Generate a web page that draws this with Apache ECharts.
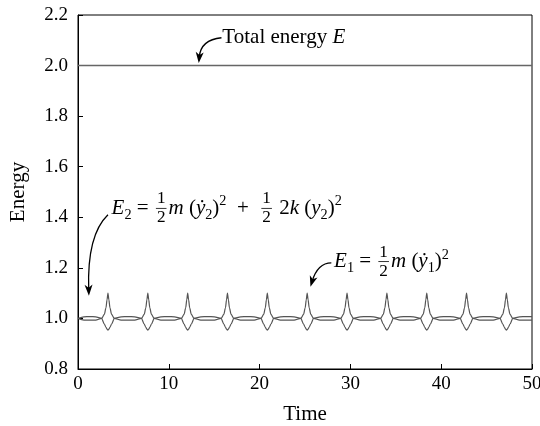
<!DOCTYPE html>
<html>
<head>
<meta charset="utf-8">
<script src="https://cdn.jsdelivr.net/npm/echarts@6/dist/echarts.min.js"></script>
<style>
  html, body { margin: 0; background: #fff; }
  #chart { width: 540px; height: 426px; }
</style>
</head>
<body>
<div id="chart"></div>
<script>
// values, one row per spike
const time = [
  0, 0.65, 1.3, 1.95,
  2.60, 2.90, 3.08, 3.20, 3.30, 3.40, 3.52, 3.70, 4.00, 4.75, 5.49, 6.24,
  6.99, 7.29, 7.47, 7.59, 7.69, 7.79, 7.91, 8.09, 8.39, 9.14, 9.88, 10.63,
  11.38, 11.68, 11.86, 11.98, 12.08, 12.18, 12.30, 12.48, 12.78, 13.53, 14.27, 15.02,
  15.76, 16.06, 16.24, 16.36, 16.46, 16.56, 16.68, 16.86, 17.16, 17.91, 18.65, 19.40,
  20.15, 20.45, 20.63, 20.75, 20.85, 20.95, 21.07, 21.25, 21.55, 22.30, 23.04, 23.79,
  24.54, 24.84, 25.02, 25.14, 25.24, 25.34, 25.46, 25.64, 25.94, 26.69, 27.43, 28.18,
  28.93, 29.23, 29.41, 29.53, 29.63, 29.73, 29.85, 30.03, 30.33, 31.08, 31.82, 32.57,
  33.32, 33.62, 33.80, 33.92, 34.02, 34.12, 34.24, 34.42, 34.72, 35.47, 36.21, 36.96,
  37.71, 38.01, 38.19, 38.31, 38.41, 38.51, 38.63, 38.81, 39.11, 39.86, 40.60, 41.35,
  42.09, 42.39, 42.57, 42.69, 42.79, 42.89, 43.01, 43.19, 43.49, 44.24, 44.98, 45.73,
  46.48, 46.78, 46.96, 47.08, 47.18, 47.28, 47.40, 47.58, 47.88, 48.63, 49.37, 50.00
];
const energy1 = [
  1.000, 0.9935, 0.993, 0.9935,
  1.000, 1.016, 1.042, 1.074, 1.100, 1.074, 1.042, 1.016, 1.000, 0.9935, 0.993, 0.9935,
  1.000, 1.016, 1.042, 1.074, 1.100, 1.074, 1.042, 1.016, 1.000, 0.9935, 0.993, 0.9935,
  1.000, 1.016, 1.042, 1.074, 1.100, 1.074, 1.042, 1.016, 1.000, 0.9935, 0.993, 0.9935,
  1.000, 1.016, 1.042, 1.074, 1.100, 1.074, 1.042, 1.016, 1.000, 0.9935, 0.993, 0.9935,
  1.000, 1.016, 1.042, 1.074, 1.100, 1.074, 1.042, 1.016, 1.000, 0.9935, 0.993, 0.9935,
  1.000, 1.016, 1.042, 1.074, 1.100, 1.074, 1.042, 1.016, 1.000, 0.9935, 0.993, 0.9935,
  1.000, 1.016, 1.042, 1.074, 1.100, 1.074, 1.042, 1.016, 1.000, 0.9935, 0.993, 0.9935,
  1.000, 1.016, 1.042, 1.074, 1.100, 1.074, 1.042, 1.016, 1.000, 0.9935, 0.993, 0.9935,
  1.000, 1.016, 1.042, 1.074, 1.100, 1.074, 1.042, 1.016, 1.000, 0.9935, 0.993, 0.9935,
  1.000, 1.016, 1.042, 1.074, 1.100, 1.074, 1.042, 1.016, 1.000, 0.9935, 0.993, 0.9935,
  1.000, 1.016, 1.042, 1.074, 1.100, 1.074, 1.042, 1.016, 1.000, 0.9935, 0.993, 0.9932
];
const energy2 = [
  1.000, 1.0065, 1.007, 1.0065,
  1.000, 0.978, 0.965, 0.958, 0.954, 0.958, 0.965, 0.978, 1.000, 1.0065, 1.007, 1.0065,
  1.000, 0.978, 0.965, 0.958, 0.954, 0.958, 0.965, 0.978, 1.000, 1.0065, 1.007, 1.0065,
  1.000, 0.978, 0.965, 0.958, 0.954, 0.958, 0.965, 0.978, 1.000, 1.0065, 1.007, 1.0065,
  1.000, 0.978, 0.965, 0.958, 0.954, 0.958, 0.965, 0.978, 1.000, 1.0065, 1.007, 1.0065,
  1.000, 0.978, 0.965, 0.958, 0.954, 0.958, 0.965, 0.978, 1.000, 1.0065, 1.007, 1.0065,
  1.000, 0.978, 0.965, 0.958, 0.954, 0.958, 0.965, 0.978, 1.000, 1.0065, 1.007, 1.0065,
  1.000, 0.978, 0.965, 0.958, 0.954, 0.958, 0.965, 0.978, 1.000, 1.0065, 1.007, 1.0065,
  1.000, 0.978, 0.965, 0.958, 0.954, 0.958, 0.965, 0.978, 1.000, 1.0065, 1.007, 1.0065,
  1.000, 0.978, 0.965, 0.958, 0.954, 0.958, 0.965, 0.978, 1.000, 1.0065, 1.007, 1.0065,
  1.000, 0.978, 0.965, 0.958, 0.954, 0.958, 0.965, 0.978, 1.000, 1.0065, 1.007, 1.0065,
  1.000, 0.978, 0.965, 0.958, 0.954, 0.958, 0.965, 0.978, 1.000, 1.0065, 1.007, 1.0068
];
const totalTime = [0, 50];
const totalEnergy = [2.0, 2.0];

const FONT = '"Liberation Serif", "Times New Roman", serif';
const FS = 19;    // tick labels
const FSA = 21;   // axis names and annotations

const chart = echarts.init(document.getElementById('chart'));
const zip = (xs, ys) => xs.map((x, i) => [x, ys[i]]);

chart.setOption({
  animation: false,
  backgroundColor: '#fff',
  grid: {
    left: 78, right: 8, top: 15, bottom: 57, outerBoundsMode: 'none',
    show: true, borderColor: '#000', borderWidth: 1
  },
  xAxis: {
    type: 'value', min: 0, max: 50, interval: 10,
    name: 'Time', nameLocation: 'middle', nameGap: 35,
    nameTextStyle: { fontFamily: FONT, fontSize: FSA, color: '#000' },
    axisLine: { lineStyle: { color: '#000', width: 1 } },
    axisTick: { inside: true, length: 5, lineStyle: { color: '#000' } },
    axisLabel: { fontFamily: FONT, fontSize: FS, color: '#000', margin: 6 },
    splitLine: { show: false }
  },
  yAxis: {
    type: 'value', min: 0.8, max: 2.2, interval: 0.2,
    name: 'Energy', nameLocation: 'middle', nameGap: 49,
    nameTextStyle: { fontFamily: FONT, fontSize: FSA, color: '#000' },
    axisLine: { show: true, lineStyle: { color: '#000', width: 1 } },
    axisTick: { show: true, inside: true, length: 5, lineStyle: { color: '#000' } },
    axisLabel: { fontFamily: FONT, fontSize: FS, color: '#000', margin: 10, formatter: v => v.toFixed(1) },
    splitLine: { show: false }
  },
  series: [
    {
      name: 'Total', type: 'line', data: zip(totalTime, totalEnergy), showSymbol: false,
      lineStyle: { color: '#666', width: 1.6 }
    },
    {
      name: 'E1', type: 'line', data: zip(time, energy1), showSymbol: false,
      smooth: 0.25, smoothMonotone: 'x',
      lineStyle: { color: '#555', width: 1.2 }
    },
    {
      name: 'E2', type: 'line', data: zip(time, energy2), showSymbol: false,
      smooth: 0.25, smoothMonotone: 'x',
      lineStyle: { color: '#555', width: 1.2 }
    }
  ]
});

// annotations, anchored in data coordinates
const ctx = document.createElement('canvas').getContext('2d');

function piece(text, x, y, size, italic, va) {
  return {
    type: 'text',
    style: {
      text: text, x: x, y: y, fill: '#000',
      fontFamily: FONT, fontSize: size, fontStyle: italic ? 'italic' : 'normal',
      verticalAlign: va || 'middle'
    }
  };
}

function layoutEq(parts, x0, y0) {
  const els = [];
  let x = x0;
  parts.forEach(p => {
    if (p.frac) {
      const fs = FSA * 0.82;
      ctx.font = fs + 'px ' + FONT;
      const w = Math.max(ctx.measureText(p.frac[0]).width, ctx.measureText(p.frac[1]).width) + 2;
      const cx = x + 2 + w / 2;
      const n = piece(p.frac[0], cx, y0 - 1, fs, false, 'bottom');
      n.style.align = 'center';
      const d = piece(p.frac[1], cx, y0 + 1, fs, false, 'top');
      d.style.align = 'center';
      els.push(n, d, {
        type: 'line', shape: { x1: x + 2, y1: y0, x2: x + 2 + w, y2: y0 },
        style: { stroke: '#000', lineWidth: 0.8 }
      });
      x += w + 4;
    } else {
      const small = p.sub || p.sup;
      const fs = small ? FSA * 0.68 : FSA;
      ctx.font = (p.it ? 'italic ' : '') + fs + 'px ' + FONT;
      const dy = p.sub ? FSA * 0.32 : p.sup ? -FSA * 0.32 : 0;
      els.push(piece(p.t, x, y0 + dy, fs, p.it));
      x += ctx.measureText(p.t).width;
    }
  });
  return els;
}

function arrow(S, T, cp) {
  const dx = T[0] - cp[0], dy = T[1] - cp[1];
  const len = Math.hypot(dx, dy) || 1;
  const ux = dx / len, uy = dy / len, px = -uy, py = ux;
  const L = 11, W = 4, N = 3;
  const bx = T[0] - ux * L, by = T[1] - uy * L;
  return [
    {
      type: 'bezierCurve',
      shape: { x1: S[0], y1: S[1], x2: T[0] - ux * 6, y2: T[1] - uy * 6, cpx1: cp[0], cpy1: cp[1] },
      style: { stroke: '#000', lineWidth: 1.3, fill: null }
    },
    {
      type: 'polygon',
      shape: { points: [T, [bx + px * W, by + py * W], [T[0] - ux * (L - N), T[1] - uy * (L - N)], [bx - px * W, by - py * W]] },
      style: { fill: '#000' }
    }
  ];
}

const toPx = p => chart.convertToPixel({ gridIndex: 0 }, p);

const totalLabel = { from: [15.8, 2.11], tip: [13.3, 2.01], text: [15.9, 2.11] };
const e2Label = { from: [3.3, 1.41], tip: [1.2, 1.09], text: [3.7, 1.435] };
const e1Label = { from: [27.9, 1.22], tip: [25.6, 1.125], text: [28.2, 1.225] };

const g = [];
{
  const S = toPx(totalLabel.from), T = toPx(totalLabel.tip);
  g.push(...arrow(S, T, [T[0] + 2, S[1] + 2]));
  const p = toPx(totalLabel.text);
  g.push(...layoutEq([{ t: 'Total energy ' }, { t: 'E', it: true }], p[0], p[1]));
}
{
  const S = toPx(e2Label.from), T = toPx(e2Label.tip);
  g.push(...arrow(S, T, [T[0] - 2, S[1] + 0.25 * (T[1] - S[1])]));
  const p = toPx(e2Label.text);
  g.push(...layoutEq([
    { t: 'E', it: true }, { t: '2', sub: true }, { t: ' = ' }, { frac: ['1', '2'] },
    { t: 'm', it: true }, { t: ' (' }, { t: 'ẏ', it: true }, { t: '2', sub: true }, { t: ')' }, { t: '2', sup: true },
    { t: '  +  ' }, { frac: ['1', '2'] }, { t: ' 2' }, { t: 'k', it: true }, { t: ' (' }, { t: 'y', it: true },
    { t: '2', sub: true }, { t: ')' }, { t: '2', sup: true }
  ], p[0], p[1]));
}
{
  const S = toPx(e1Label.from), T = toPx(e1Label.tip);
  g.push(...arrow(S, T, [T[0] + 0.35 * (S[0] - T[0]), S[1]]));
  const p = toPx(e1Label.text);
  g.push(...layoutEq([
    { t: 'E', it: true }, { t: '1', sub: true }, { t: ' = ' }, { frac: ['1', '2'] },
    { t: 'm', it: true }, { t: ' (' }, { t: 'ẏ', it: true }, { t: '1', sub: true }, { t: ')' }, { t: '2', sup: true }
  ], p[0], p[1]));
}
chart.setOption({ graphic: g });
</script>
</body>
</html>
